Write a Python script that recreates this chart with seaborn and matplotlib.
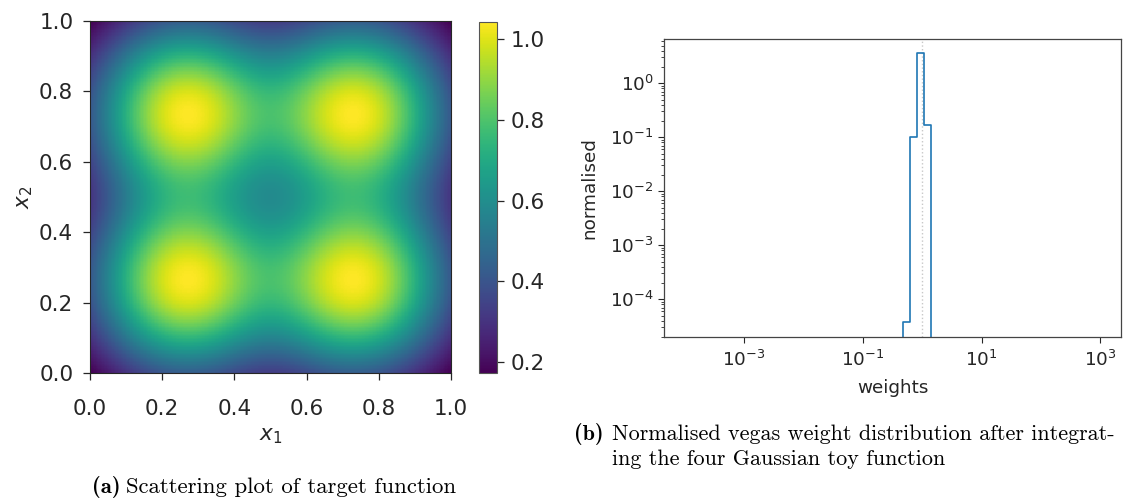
import numpy as np
import matplotlib
matplotlib.use("Agg")
import matplotlib.pyplot as plt
from matplotlib import ticker
import seaborn as sns

# ---- target function: four Gaussian bumps on the unit square ----
bump_x = [0.265, 0.735, 0.265, 0.735]
bump_y = [0.26, 0.26, 0.74, 0.74]
bump_sigma = 0.195
bump_amplitude = 1.026
blend_power = 1.5
grid_points = 260
unit_ticks = [0.0, 0.2, 0.4, 0.6, 0.8, 1.0]
cbar_ticks = [0.2, 0.4, 0.6, 0.8, 1.0]

# ---- normalised vegas weight histogram (log-spaced bins) ----
bin_exp_lo, bin_exp_hi, bin_edges_count = -4, 3, 60
filled_bins = [31, 32, 33, 34]
bin_density = [3.8e-5, 0.10, 3.6, 0.17]
mean_weight = 1.0
weight_ticks = [1e-3, 1e-1, 1e1, 1e3]
weight_xlim = (10 ** -4.35, 10 ** 3.35)
density_ylim = (2.0e-5, 6.6)

caption_a = ("(a)", ["Scattering plot of target function"])
caption_b = ("(b)", ["Normalised vegas weight distribution after integrat-",
                     "ing the four Gaussian toy function"])

sns.set_style("ticks")
plt.rcParams["font.family"] = ["DejaVu Sans"]
ink = "#262626"

W, H = 1123, 498
fig = plt.figure(figsize=(W / 100, H / 100), dpi=100)


def box(x0, y0, x1, y1):
    return [x0 / W, 1 - y1 / H, (x1 - x0) / W, (y1 - y0) / H]


ax1 = fig.add_axes(box(90, 21, 451, 373))
cax = fig.add_axes(box(479, 22, 497, 373))
ax2 = fig.add_axes(box(664, 39, 1121, 337))

# ---- left: heat map of the target function ----
u = (np.arange(grid_points) + 0.5) / grid_points
X, Y = np.meshgrid(u, u)
acc = np.zeros_like(X)
for bx, by in zip(bump_x, bump_y):
    g = np.exp(-((X - bx) ** 2 + (Y - by) ** 2) / (2 * bump_sigma ** 2))
    acc += g ** blend_power
field = bump_amplitude * acc ** (1.0 / blend_power)

sns.heatmap(field, ax=ax1, cbar_ax=cax, cmap="viridis",
            xticklabels=False, yticklabels=False, rasterized=True)
ax1.set_xlim(0, grid_points)
ax1.set_ylim(0, grid_points)
pos = [t * grid_points for t in unit_ticks]
ax1.set_xticks(pos)
ax1.set_yticks(pos)
fmt = ticker.FuncFormatter(lambda v, _: f"{v / grid_points:.1f}")
ax1.xaxis.set_major_formatter(fmt)
ax1.yaxis.set_major_formatter(fmt)
ax1.tick_params(labelsize=15.5, colors=ink, length=5, width=0.9,
                direction="out", rotation=0)
ax1.tick_params(axis="x", pad=14)
ax1.tick_params(axis="y", pad=7)
ax1.set_xlabel(r"$x_1$", fontsize=15.5, color=ink, labelpad=5)
ax1.set_ylabel(r"$x_2$", fontsize=15.5, color=ink, labelpad=3)
for sp in ax1.spines.values():
    sp.set_visible(True)
    sp.set_color(ink)
    sp.set_linewidth(0.8)

cb = ax1.collections[0].colorbar
cb.outline.set_linewidth(0.8)
cb.outline.set_edgecolor("#555555")
cb.set_ticks(cbar_ticks)
cb.ax.tick_params(labelsize=15.5, colors=ink, length=5, width=0.9, pad=5)

# ---- right: weight distribution ----
edges = list(np.logspace(bin_exp_lo, bin_exp_hi, bin_edges_count))
centres = [np.sqrt(edges[i] * edges[i + 1]) for i in filled_bins]
sns.histplot(x=centres, weights=bin_density, bins=edges, stat="count",
             element="step", fill=False, color="#1f77b4", linewidth=1.2,
             ax=ax2)
ax2.axvline(mean_weight, color="#c8c8c8", linestyle=":", linewidth=1.0,
            zorder=0)
ax2.set_xscale("log")
ax2.set_yscale("log")
ax2.set_xlim(*weight_xlim)
ax2.set_ylim(*density_ylim)
ax2.xaxis.set_major_locator(ticker.FixedLocator(weight_ticks))
ax2.xaxis.set_major_formatter(ticker.LogFormatterSciNotation())
ax2.xaxis.set_minor_locator(ticker.NullLocator())
ax2.yaxis.set_major_locator(ticker.LogLocator(base=10, numticks=20))
ax2.yaxis.set_minor_locator(ticker.LogLocator(base=10, subs=np.arange(2, 10),
                                              numticks=40))
ax2.yaxis.set_minor_formatter(ticker.NullFormatter())
ax2.tick_params(labelsize=13.2, colors=ink, direction="out")
ax2.tick_params(which="major", length=4, width=0.8)
ax2.tick_params(which="minor", length=2.5, width=0.6)
ax2.tick_params(axis="x", pad=5)
ax2.set_xlabel("weights", fontsize=13.2, color=ink, labelpad=7)
ax2.set_ylabel("normalised", fontsize=13.2, color=ink, labelpad=8)
for sp in ax2.spines.values():
    sp.set_visible(True)
    sp.set_color("#444444")
    sp.set_linewidth(0.9)

# ---- captions ----
fig.canvas.draw()
renderer = fig.canvas.get_renderer()


def caption(x_px, base_px, spacing_px, gap_px, size, label, lines):
    lab = fig.text(x_px / W, 1 - base_px / H, label, fontfamily="cmb10",
                   fontsize=size, color="black", va="baseline")
    bb = lab.get_window_extent(renderer)
    x_txt = (bb.x1 + gap_px) / W
    for k, line in enumerate(lines):
        fig.text(x_txt, 1 - (base_px + k * spacing_px) / H, line,
                 fontfamily="cmr10", fontsize=size, color="black",
                 va="baseline")


caption(92, 493, 25, 6, 16.4, *caption_a)
caption(574, 440, 25, 8, 15.9, *caption_b)

fig.savefig("out.png", dpi=100)
